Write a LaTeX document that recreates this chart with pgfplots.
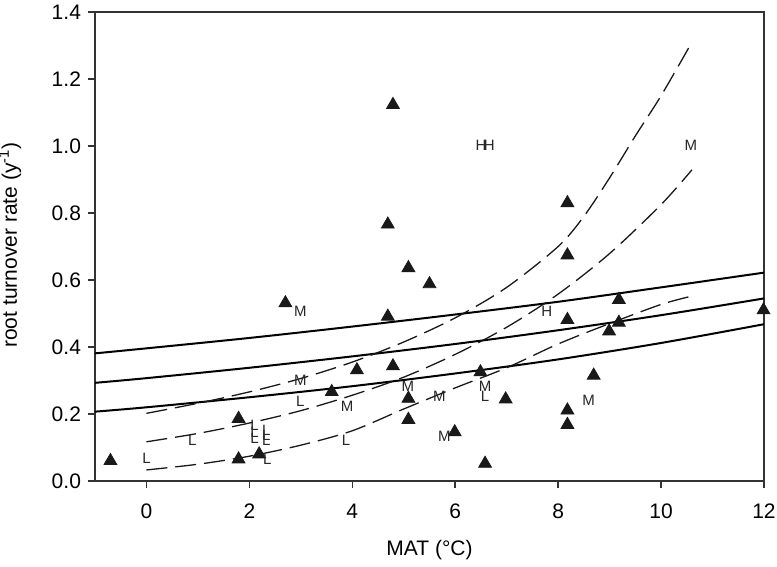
\documentclass[border=0pt]{standalone}
\usepackage{pgfplots}
\pgfplotsset{compat=1.18}
\usepackage{fontspec}
\setmainfont{Liberation Sans}

\begin{document}
\begin{tikzpicture}
\begin{axis}[
  scale only axis, width=334.5pt, height=234.5pt,
  xmin=-1, xmax=12, ymin=0, ymax=1.4,
  xtick={0,2,4,6,8,10,12},
  ytick={0,0.2,0.4,0.6,0.8,1.0,1.2,1.4},
  tick align=outside, major tick length=3.5pt,
  tick pos=left,
  axis line style={line width=0.75pt, black!80},
  tick style={line width=0.75pt, black!80},
  font=\fontsize{10.5}{12}\selectfont,
  /pgf/number format/assume math mode=true,
  scaled y ticks=false,
  yticklabel={\pgfmathprintnumber[fixed,fixed zerofill,precision=1]{\tick}},
  xticklabel shift=4.5pt,
  xlabel={MAT (°C)},
  ylabel={root turnover rate (y\textsuperscript{-1})},
  xlabel style={at={(axis description cs:0.5,-0.147)}, anchor=center},
  ylabel style={at={(axis description cs:-0.127,0.503)}, anchor=center},
  clip=true,
]
\coordinate (SW) at (rel axis cs:0,0);
\coordinate (NE) at (rel axis cs:1,1);

% solid lines
\addplot[black, line width=1pt, smooth] coordinates {
(-1,0.381) (0,0.396) (2,0.427) (4,0.461) (6,0.497) (8,0.535) (10,0.578) (12,0.622)};
\addplot[black, line width=1pt, smooth] coordinates {
(-1,0.293) (0,0.307) (2,0.338) (4,0.372) (6,0.409) (8,0.450) (10,0.495) (12,0.545)};
\addplot[black, line width=1pt, smooth] coordinates {
(-1,0.207) (0,0.220) (2,0.250) (4,0.283) (6,0.321) (8,0.363) (10,0.412) (12,0.468)};

% dashed curves
\addplot[black!90, line width=0.65pt, dash pattern=on 10.5pt off 4pt, smooth] coordinates {
(0,0.202) (1,0.232) (2,0.266) (3,0.306) (4,0.355) (5,0.415) (6,0.487) (7,0.578) (8,0.700) (8.5,0.790) (9,0.905) (9.5,1.030) (10,1.150) (10.6,1.310)};
\addplot[black!90, line width=0.65pt, dash pattern=on 10.5pt off 4pt, smooth] coordinates {
(0,0.117) (1,0.142) (2,0.173) (3,0.210) (4,0.256) (5,0.310) (6,0.378) (7,0.459) (8,0.558) (9,0.679) (10,0.825) (10.6,0.929)};
\addplot[black!90, line width=0.65pt, dash pattern=on 10.5pt off 4pt, smooth] coordinates {
(0,0.033) (1,0.050) (2,0.074) (3,0.107) (4,0.150) (5,0.215) (6,0.278) (7,0.338) (8,0.409) (9,0.470) (10,0.527) (10.6,0.552)};

% triangles
\addplot[only marks, mark=triangle*, mark size=3.7pt, black!90] table {
x y
-0.70 0.060
1.79 0.065
1.79 0.186
2.19 0.080
2.70 0.531
3.60 0.266
4.09 0.331
4.69 0.491
4.69 0.766
4.79 1.123
4.79 0.343
5.09 0.636
5.09 0.246
5.09 0.183
5.50 0.588
5.99 0.146
6.49 0.325
6.58 0.052
6.98 0.244
8.18 0.830
8.18 0.674
8.18 0.481
8.18 0.211
8.18 0.168
8.69 0.315
8.99 0.447
9.18 0.541
9.18 0.473
11.99 0.510
};

% letters
\addplot[only marks, mark=*, mark size=0pt, mark options={draw=none, fill=none},
  nodes near coords, point meta=explicit symbolic,
  every node near coord/.append style={anchor=center, inner sep=0pt,
    font=\fontsize{7.5}{9}\selectfont, text=black!85}]
  table[meta=lab] {
x y lab
0.00 0.068 L
0.89 0.122 L
2.10 0.167 L
2.10 0.146 L
2.10 0.128 L
2.33 0.152 L
2.33 0.137 L
2.33 0.122 L
2.35 0.066 L
2.99 0.237 L
2.99 0.505 M
2.99 0.301 M
3.90 0.222 M
3.88 0.122 L
5.08 0.282 M
5.69 0.252 M
5.79 0.132 M
6.58 0.282 M
6.58 0.252 L
7.78 0.505 H
6.50 1.003 H
6.66 1.003 H
10.58 1.001 M
8.59 0.240 M
};
\end{axis}
\pgfresetboundingbox
\path[use as bounding box] ([shift={(-47.5pt,-43pt)}]SW) rectangle ([shift={(6.5pt,6pt)}]NE);
\end{tikzpicture}
\end{document}
